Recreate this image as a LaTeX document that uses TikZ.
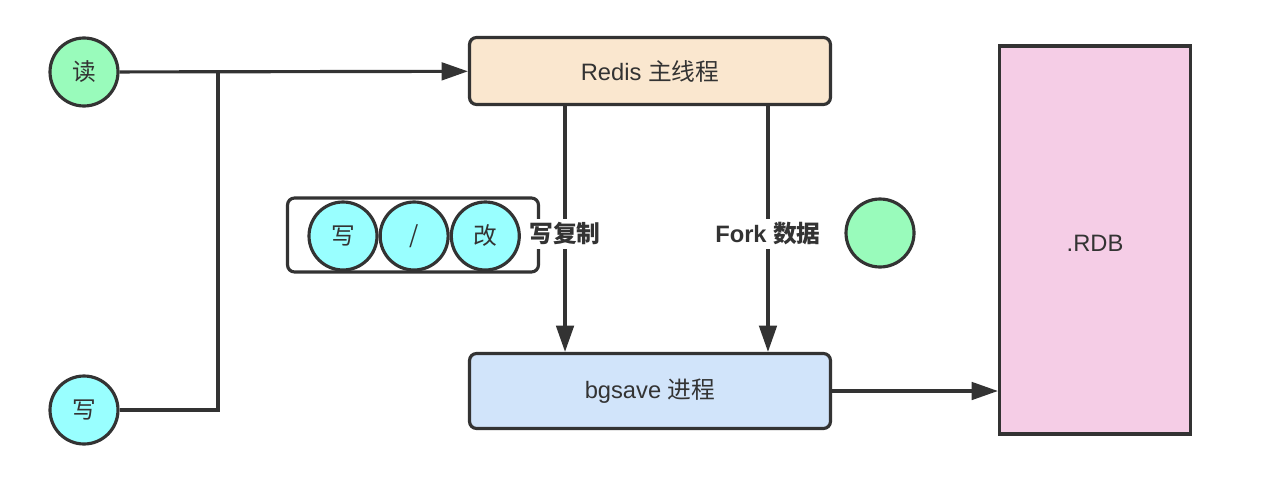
\documentclass[tikz,border=0pt]{standalone}
\usepackage{fontspec}
\setmainfont{Liberation Sans}
\newfontfamily\cjk{Noto Sans CJK SC}
\usetikzlibrary{arrows.meta, positioning}
\definecolor{ink}{HTML}{333333}
\definecolor{readgreen}{HTML}{99FBBB}
\definecolor{writecyan}{HTML}{99FFFF}
\definecolor{mainorange}{HTML}{FAE7CF}
\definecolor{bgblue}{HTML}{D1E4FA}
\definecolor{rdbpink}{HTML}{F5CDE6}
\begin{document}
\begin{tikzpicture}
[
						x=0.02cm, y=-0.02cm,
						font=\fontsize{13.5pt}{15pt}\selectfont,
						node distance={0mm},
						round/.style = {draw=ink, line width=1.8pt, circle, minimum size=1.36cm, inner sep=0pt, text=ink, font=\fontsize{13.5pt}{15pt}\selectfont\cjk},
						box/.style = {draw=ink, line width=1.8pt, rectangle, rounded corners=4pt, minimum width=7.22cm, text=ink},
						wire/.style = {draw=ink, line width=1.8pt},
						arrow/.style = {wire, -{Triangle[length=15pt, width=10pt]}},
						lbl/.style = {fill=white, font=\fontsize{13.5pt}{15pt}\selectfont\bfseries, text=ink, inner sep=2pt}
					]
\useasboundingbox (0,0) rectangle (1266,500);
% left inputs
\node[round, fill=readgreen] (read) at (84,72) {读};
\node[round, fill=writecyan] (write) at (84,410) {写};
% processes
\node[box, fill=mainorange, minimum height=1.34cm] (main) at (650,71) {Redis {\cjk 主线程}};
\node[box, fill=bgblue, minimum height=1.5cm] (bg) at (650,391) {bgsave {\cjk 进程}};
\node[draw=ink, line width=1.8pt, fill=rdbpink, minimum width=3.82cm, minimum height=7.76cm, text=ink] (rdb) at (1095,240) {};
\node[text=ink] (rdbtext) at (1095,243) {.RDB};
% pending writes
\node[draw=ink, line width=1.8pt, rounded corners=4pt, minimum width=5.02cm, minimum height=1.48cm] (queue) at (413,235) {};
\node[round, fill=writecyan] (q1) at (343,236) {写};
\node[round, fill=writecyan] (q2) [right=of q1] {/};
\node[round, fill=writecyan] (q3) [right=of q2] {改};
\node[round, fill=readgreen] (page) at (880,233) {};
% connectors
\coordinate (jn) at (218,72);
\draw[arrow] (read) -- (main);
\draw[wire] (write) -| (jn);
\draw[arrow] ([xshift=-1.7cm]main.south) -- node[lbl, pos=0.52] {\cjk 写复制} ([xshift=-1.7cm]bg.north);
\draw[arrow] ([xshift=2.36cm]main.south) -- node[lbl, pos=0.52] {Fork {\cjk 数据}} ([xshift=2.36cm]bg.north);
\draw[arrow] (bg.east) -- (bg.east -| rdb.west);
\end{tikzpicture}
\end{document}
